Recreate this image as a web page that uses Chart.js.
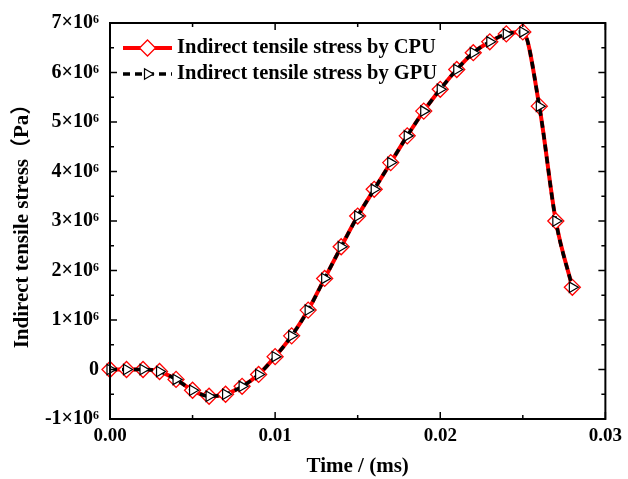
<!DOCTYPE html>
<html>
<head>
<meta charset="utf-8">
<script src="https://cdn.jsdelivr.net/npm/chart.js@4.4.0/dist/chart.umd.min.js"></script>
<style>
  html, body { margin: 0; padding: 0; background: #fff; }
  #wrap { width: 628px; height: 479px; }
</style>
</head>
<body>
<div id="wrap"><canvas id="stressChart" width="628" height="479"></canvas></div>
<script>
'use strict';

// Datos
const time = [0, 0.001, 0.002, 0.003, 0.004, 0.005, 0.006, 0.007, 0.008, 0.009,
  0.010, 0.011, 0.012, 0.013, 0.014, 0.015, 0.016, 0.017, 0.018, 0.019,
  0.020, 0.021, 0.022, 0.023, 0.024, 0.025, 0.026, 0.027, 0.028];
const cpuStress = [0, 0, 0, -0.04e6, -0.2e6, -0.42e6, -0.54e6, -0.5e6, -0.34e6, -0.1e6,
  0.26e6, 0.68e6, 1.2e6, 1.84e6, 2.48e6, 3.1e6, 3.64e6, 4.18e6, 4.72e6, 5.22e6,
  5.66e6, 6.06e6, 6.4e6, 6.62e6, 6.78e6, 6.82e6, 5.32e6, 3.0e6, 1.66e6];
const gpuStress = [0, 0, 0, -0.04e6, -0.2e6, -0.42e6, -0.54e6, -0.5e6, -0.34e6, -0.1e6,
  0.26e6, 0.68e6, 1.2e6, 1.84e6, 2.48e6, 3.1e6, 3.64e6, 4.18e6, 4.72e6, 5.22e6,
  5.66e6, 6.06e6, 6.4e6, 6.62e6, 6.78e6, 6.82e6, 5.32e6, 3.0e6, 1.66e6];

const xTickLabels = ['0.00', '0.01', '0.02', '0.03'];
const yTickLabels = ['-1×10⁶', '0', '1×10⁶', '2×10⁶', '3×10⁶', '4×10⁶', '5×10⁶', '6×10⁶', '7×10⁶'];
const seriesLabels = ['Indirect tensile stress by CPU', 'Indirect tensile stress by GPU'];

const serif = "'Liberation Serif', 'Times New Roman', 'Noto Sans CJK SC', serif";

const toPoints = (xs, ys) => xs.map((t, i) => ({ x: t, y: ys[i] }));

// Marco con ticks hacia adentro en los cuatro lados
const frameTicks = {
  id: 'frameTicks',
  afterDatasetsDraw(chart) {
    const { ctx, chartArea: a, scales: { x, y } } = chart;
    ctx.save();
    ctx.strokeStyle = '#000';
    ctx.lineWidth = 2;
    ctx.strokeRect(a.left, a.top, a.right - a.left, a.bottom - a.top);

    const majorLen = 7, minorLen = 4;
    const withMinor = (vals) => {
      const out = [];
      vals.forEach((v, i) => {
        out.push([v, majorLen]);
        if (i < vals.length - 1) out.push([(v + vals[i + 1]) / 2, minorLen]);
      });
      return out;
    };
    ctx.lineWidth = 1.5;
    ctx.beginPath();
    withMinor(x.ticks.map(t => t.value)).forEach(([v, len]) => {
      const px = x.getPixelForValue(v);
      ctx.moveTo(px, a.bottom); ctx.lineTo(px, a.bottom - len);
      ctx.moveTo(px, a.top); ctx.lineTo(px, a.top + len);
    });
    withMinor(y.ticks.map(t => t.value)).forEach(([v, len]) => {
      const py = y.getPixelForValue(v);
      ctx.moveTo(a.left, py); ctx.lineTo(a.left + len, py);
      ctx.moveTo(a.right, py); ctx.lineTo(a.right - len, py);
    });
    ctx.stroke();
    ctx.restore();
  }
};

// Leyenda dentro del área del gráfico
const insideLegend = {
  id: 'insideLegend',
  afterDraw(chart) {
    const { ctx, chartArea: a } = chart;
    const x0 = a.left + 13, x1 = a.left + 62, tx = a.left + 67;
    const rows = [a.top + 25, a.top + 51];
    ctx.save();
    seriesLabels.forEach((label, i) => {
      const ds = chart.data.datasets.find(d => d.label === label);
      const yy = rows[i];
      ctx.strokeStyle = ds.borderColor;
      ctx.lineWidth = ds.borderWidth;
      ctx.setLineDash(ds.borderDash || []);
      ctx.beginPath();
      ctx.moveTo(x0, yy); ctx.lineTo(x1, yy);
      ctx.stroke();
      ctx.setLineDash([]);
      ctx.fillStyle = ds.pointBackgroundColor;
      ctx.strokeStyle = ds.pointBorderColor;
      ctx.lineWidth = ds.pointBorderWidth;
      Chart.helpers.drawPoint(ctx, {
        pointStyle: ds.pointStyle,
        rotation: ds.pointRotation || 0,
        radius: ds.pointRadius,
        borderWidth: ds.pointBorderWidth
      }, (x0 + x1) / 2, yy);
      ctx.font = 'bold 20.5px ' + serif;
      ctx.textBaseline = 'middle';
      ctx.fillStyle = '#000';
      ctx.fillText(label, tx, yy);
    });
    ctx.restore();
  }
};

new Chart(document.getElementById('stressChart'), {
  type: 'line',
  data: {
    datasets: [{
      label: seriesLabels[1],
      data: toPoints(time, gpuStress),
      borderColor: '#000',
      borderWidth: 3.5,
      borderDash: [7, 5],
      pointStyle: 'triangle',
      pointRotation: 90,
      pointRadius: 6,
      pointBorderWidth: 1.2,
      pointBorderColor: '#000',
      pointBackgroundColor: '#fff',
      cubicInterpolationMode: 'monotone',
      clip: false,
      order: 0
    },
    {
      label: seriesLabels[0],
      data: toPoints(time, cpuStress),
      borderColor: '#ff0000',
      borderWidth: 4,
      pointStyle: 'rectRot',
      pointRadius: 8,
      pointBorderWidth: 1.3,
      pointBorderColor: '#ff0000',
      pointBackgroundColor: '#fff',
      cubicInterpolationMode: 'monotone',
      clip: false,
      order: 1
    }]
  },
  options: {
    responsive: false,
    animation: false,
    layout: { padding: { top: 18, right: 22, left: 0, bottom: 0 } },
    plugins: { legend: { display: false }, tooltip: { enabled: false } },
    scales: {
      x: {
        type: 'linear',
        min: 0,
        max: 0.03,
        afterFit: (s) => { s.height = 60; },
        ticks: {
          stepSize: 0.01,
          padding: 6,
          color: '#000',
          font: { family: serif, size: 19, weight: 'bold' },
          callback: (v, i) => xTickLabels[i]
        },
        grid: { drawOnChartArea: false, drawTicks: false },
        border: { display: false },
        title: {
          display: true,
          text: 'Time / (ms)',
          color: '#000',
          font: { family: serif, size: 21, weight: 'bold' },
          padding: { top: 0, bottom: 0 }
        }
      },
      y: {
        min: -1e6,
        max: 7e6,
        afterFit: (s) => { s.width = 110; },
        ticks: {
          stepSize: 1e6,
          padding: 11,
          color: '#000',
          font: { family: serif, size: 20, weight: 'bold' },
          callback: (v, i) => yTickLabels[i]
        },
        grid: { drawOnChartArea: false, drawTicks: false },
        border: { display: false },
        title: {
          display: true,
          text: 'Indirect tensile stress（Pa）',
          color: '#000',
          font: { family: serif, size: 21, weight: 'bold' },
          padding: { top: 10, bottom: 0 }
        }
      }
    }
  },
  plugins: [frameTicks, insideLegend]
});
</script>
</body>
</html>
